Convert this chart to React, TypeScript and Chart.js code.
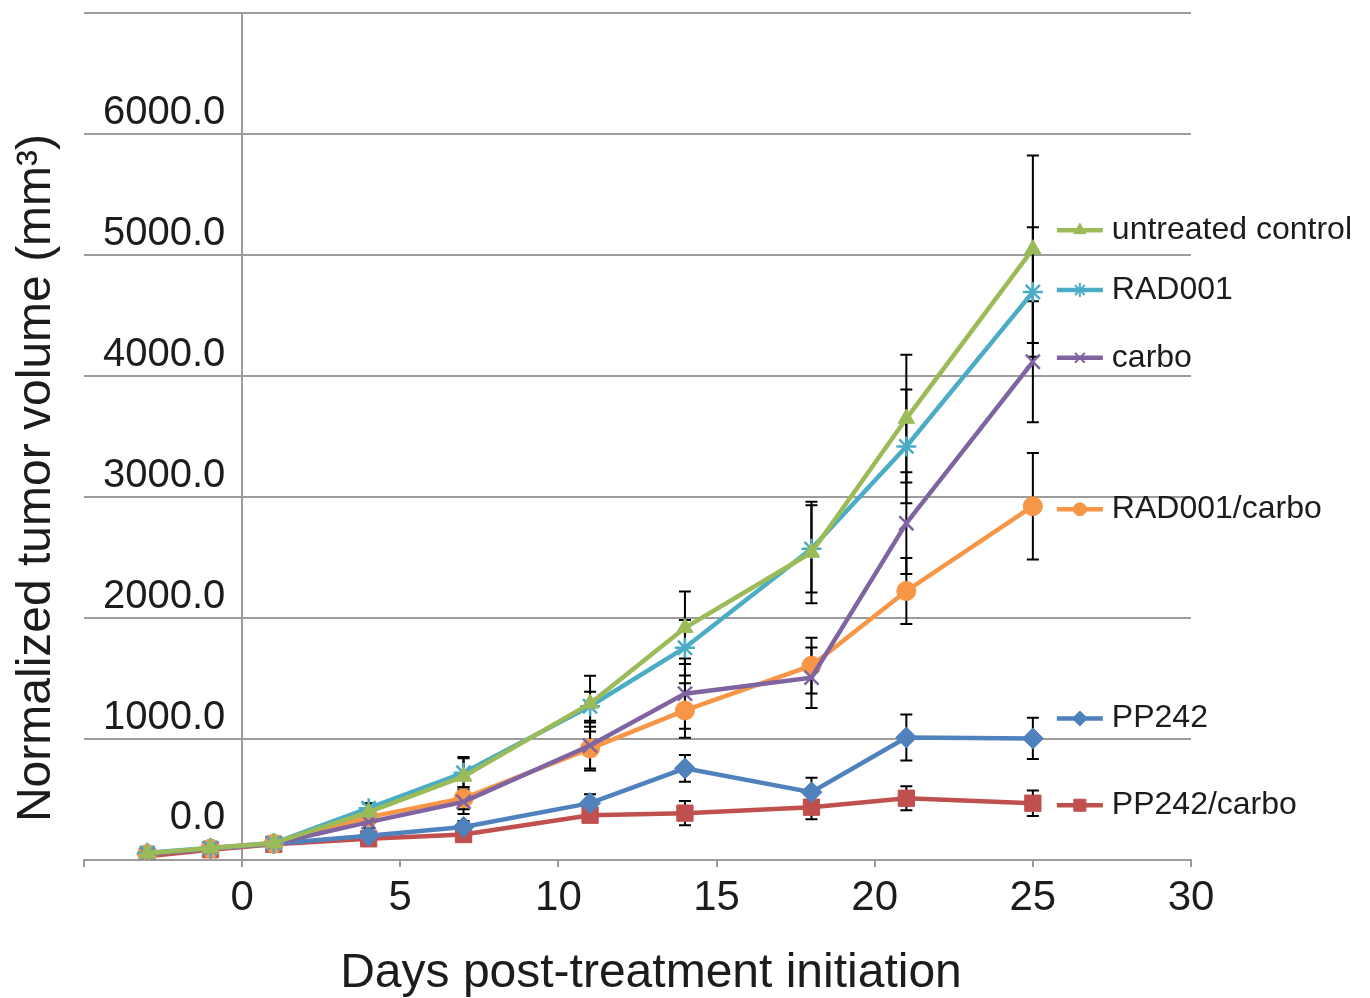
import React, { useEffect, useRef } from 'react';
import { Chart, registerables } from 'chart.js';
import { drawPoint } from 'chart.js/helpers';

Chart.register(...registerables);

// ---------------- data ----------------
const days = [-3, -1, 1, 4, 7, 11, 14, 18, 21, 25];
const seriesNames = ['untreated control', 'RAD001', 'carbo', 'RAD001/carbo', 'PP242', 'PP242/carbo'];

const untreatedControl = [55, 100, 140, 395, 690, 1292, 1918, 2540, 3646, 5045];
const untreatedControlErr = [0, 0, 0, 70, 160, 230, 300, 420, 527, 774];
const rad001 = [60, 100, 140, 428, 720, 1270, 1753, 2570, 3416, 4691];
const rad001Err = [0, 0, 0, 40, 120, 120, 230, 360, 470, 535];
const carbo = [50, 95, 135, 313, 480, 945, 1374, 1506, 2782, 4115];
const carboErr = [0, 0, 0, 50, 100, 190, 290, 250, 420, 500];
const rad001Carbo = [50, 95, 135, 354, 510, 920, 1235, 1605, 2222, 2922];
const rad001CarboErr = [0, 0, 0, 60, 90, 180, 225, 230, 272, 440];
const pp242 = [50, 95, 135, 200, 272, 470, 757, 560, 1012, 1004];
const pp242Err = [0, 0, 0, 30, 50, 73, 110, 120, 190, 170];
const pp242Carbo = [30, 85, 130, 175, 210, 370, 387, 436, 510, 469];
const pp242CarboErr = [0, 0, 0, 40, 40, 50, 100, 100, 100, 105];

const xTitle = 'Days post-treatment initiation';
const yTitle = 'Normalized tumor volume (mm\u00B3)';

const seriesValues = [untreatedControl, rad001, carbo, rad001Carbo, pp242, pp242Carbo];
const seriesErrs = [untreatedControlErr, rad001Err, carboErr, rad001CarboErr, pp242Err, pp242CarboErr];

// ---------------- styles ----------------
const FONT = '"Liberation Sans", Arial, Helvetica, sans-serif';
const TEXT = '#1c1c1c';
const GRID = '#9c9c9c';
const colors = ['#9BBB59', '#4BACC6', '#8064A2', '#F79646', '#4F81BD', '#C0504D'];
const pointStyles: any[] = ['triangle', 'star', 'crossRot', 'circle', 'rectRot', 'rect'];
const pointRadii = [9.5, 10, 10, 9.5, 10.5, 11.5];
const pointBorderWidths = [1, 2.5, 2.5, 1, 1, 1];
const legendRadii = [7, 7, 7, 6.5, 7.5, 8.5];
const legendYOffsets = [-19, -2, -4, 3, -20, 2];

Chart.defaults.font.family = FONT;

const errorBarPlugin = {
  id: 'errorBars',
  beforeDatasetsDraw(chart: any) {
    const { ctx } = chart;
    const y = chart.scales.y;
    ctx.save();
    ctx.strokeStyle = '#000';
    ctx.lineWidth = 2;
    chart.data.datasets.forEach((_ds: any, i: number) => {
      const meta = chart.getDatasetMeta(i);
      meta.data.forEach((pt: any, j: number) => {
        const e = seriesErrs[i][j];
        if (!e) return;
        const v = seriesValues[i][j];
        const top = y.getPixelForValue(v + e);
        const bot = y.getPixelForValue(v - e);
        const cw = 6;
        ctx.beginPath();
        ctx.moveTo(pt.x, top);
        ctx.lineTo(pt.x, bot);
        ctx.moveTo(pt.x - cw, top);
        ctx.lineTo(pt.x + cw, top);
        ctx.moveTo(pt.x - cw, bot);
        ctx.lineTo(pt.x + cw, bot);
        ctx.stroke();
      });
    });
    ctx.restore();
  },
};

const legendPlugin = {
  id: 'sideLegend',
  afterDraw(chart: any) {
    const { ctx } = chart;
    const x = chart.scales.x;
    const y = chart.scales.y;
    const last = days.length - 1;
    const lastX = x.getPixelForValue(days[last]);
    ctx.save();
    seriesNames.forEach((name, i) => {
      const ly = y.getPixelForValue(seriesValues[i][last]) + legendYOffsets[i];
      const x1 = lastX + 24;
      const x2 = lastX + 70;
      ctx.strokeStyle = colors[i];
      ctx.fillStyle = colors[i];
      ctx.lineWidth = 4.5;
      ctx.beginPath();
      ctx.moveTo(x1, ly);
      ctx.lineTo(x2, ly);
      ctx.stroke();
      ctx.lineWidth = pointBorderWidths[i] > 1 ? 2 : 1;
      drawPoint(ctx, { pointStyle: pointStyles[i], radius: legendRadii[i], rotation: 0, borderWidth: ctx.lineWidth } as any, (x1 + x2) / 2, ly);
      ctx.fillStyle = TEXT;
      ctx.font = `32px ${FONT}`;
      ctx.textAlign = 'left';
      ctx.textBaseline = 'middle';
      ctx.fillText(name, lastX + 79, ly);
    });
    ctx.restore();
  },
};

const titlePlugin = {
  id: 'axisTitles',
  afterDraw(chart: any) {
    const { ctx } = chart;
    ctx.save();
    ctx.fillStyle = TEXT;
    ctx.textAlign = 'center';
    ctx.textBaseline = 'alphabetic';
    ctx.font = `48px ${FONT}`;
    ctx.fillText(xTitle, 651, 987);
    ctx.translate(50, 478);
    ctx.rotate(-Math.PI / 2);
    ctx.font = `48px ${FONT}`;
    ctx.fillText(yTitle, 0, 0);
    ctx.restore();
  },
};

function TumorChart() {
  const ref = useRef<HTMLCanvasElement | null>(null);
  useEffect(() => {
    const canvas = ref.current;
    if (!canvas) return;
    const chart = new Chart(canvas, {
      type: 'line',
      data: {
        datasets: seriesValues.map((vals, i) => ({
          label: seriesNames[i],
          data: days.map((d, j) => ({ x: d, y: vals[j] })),
          borderColor: colors[i],
          backgroundColor: colors[i],
          pointBackgroundColor: colors[i],
          pointBorderColor: colors[i],
          pointStyle: pointStyles[i],
          pointRadius: pointRadii[i],
          pointBorderWidth: pointBorderWidths[i],
          borderWidth: 4.5,
          tension: 0,
          fill: false,
          order: i,
        })),
      },
      options: {
        responsive: false,
        animation: false,
        devicePixelRatio: 1,
        layout: { padding: { left: 84, right: 179, top: 10, bottom: 0 } },
        plugins: { legend: { display: false }, tooltip: { enabled: false } },
        scales: {
          x: {
            type: 'linear',
            min: -5,
            max: 30,
            ticks: {
              stepSize: 5,
              autoSkip: false,
              maxRotation: 0,
              padding: 6,
              color: TEXT,
              font: { size: 42 },
              callback: (v: any) => (Number(v) === -5 ? '' : String(v)),
            },
            grid: {
              color: (c: any) => (c.tick && c.tick.value === 0 ? GRID : 'rgba(0,0,0,0)'),
              tickColor: GRID,
              tickLength: 7,
              lineWidth: 2,
            },
            border: { color: GRID, width: 2 },
            afterFit: (s: any) => {
              s.height = 138;
              s.paddingLeft = 0;
              s.paddingRight = 0;
            },
          },
          y: {
            type: 'linear',
            min: 0,
            max: 7000,
            ticks: {
              stepSize: 1000,
              autoSkip: false,
              mirror: true,
              crossAlign: 'far',
              padding: 19,
              color: TEXT,
              font: { size: 40, lineHeight: 1.05 },
              callback: (v: any) => {
                const n = Number(v);
                if (n === 7000) return '';
                if (n === 0) return ['0.0', '', ''];
                return [n.toFixed(1), ''];
              },
            },
            grid: { color: GRID, lineWidth: 2, drawTicks: false },
            border: { display: false },
            afterFit: (s: any) => {
              s.width = 0;
              s.paddingTop = 0;
              s.paddingBottom = 0;
            },
          },
        },
      } as any,
      plugins: [errorBarPlugin, legendPlugin, titlePlugin],
    });
    return () => chart.destroy();
  }, []);
  return <canvas ref={ref} width={1370} height={998} style={{ display: 'block', width: 1370, height: 998 }} />;
}

export default function App() {
  return (
    <div style={{ position: 'fixed', left: 0, top: 0, width: 1370, height: 998, background: '#fff' }}>
      <TumorChart />
    </div>
  );
}
